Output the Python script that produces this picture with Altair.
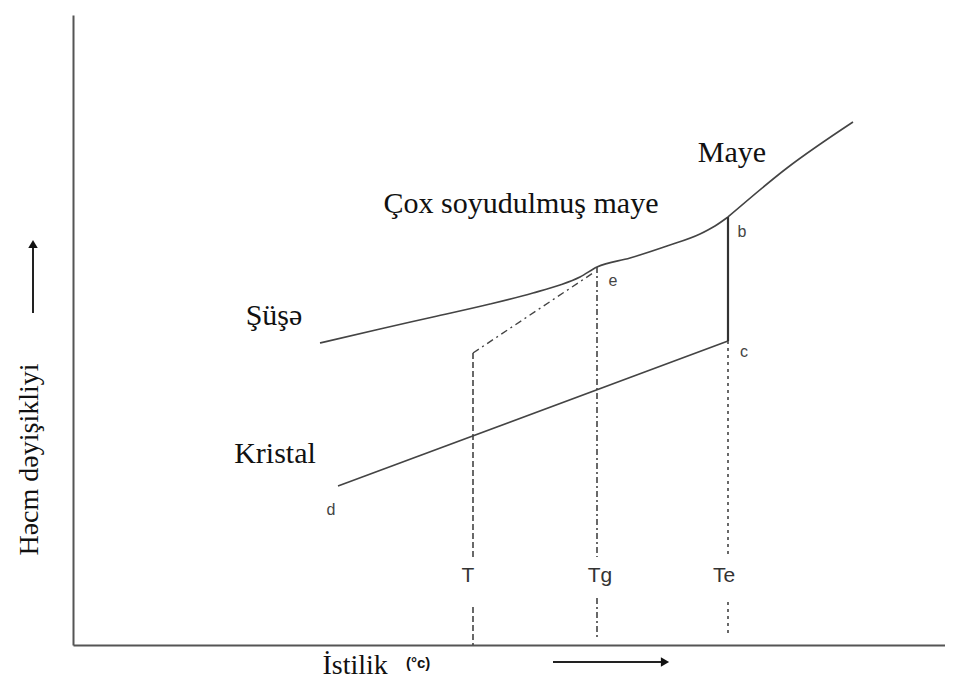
import altair as alt
import pandas as pd

# Schematic: volume change vs temperature (arbitrary units)
# Upper curve: glass -> supercooled liquid (up to b)
glass_temp = [247, 307, 360, 417, 460, 487, 507, 524, 557, 594, 627, 642, 655]
glass_vol = [302, 316, 328, 341, 352, 360, 368, 378, 387, 399, 411, 419, 428]
# Liquid branch from b
liquid_temp = [655, 714, 780]
liquid_vol = [428, 477, 523]

# Crystal line d -> c
crystal_temp = [265, 655]
crystal_vol = [159, 304]

# Vertical b -> c (crystallisation at Te)
bc_temp = [655, 655]
bc_vol = [428, 304]

# Dash-dot extrapolation from T up to the glass curve
diag_temp = [400, 520]
diag_vol = [292, 372]

# Vertical guide lines (two segments each, gap around the label)
t_seg_temp = [400, 400, 400, 400]
t_seg_vol = [292, 85, 38, 0]
tg_seg_temp = [524, 524, 524, 524]
tg_seg_vol = [378, 88, 47, 5]
te_seg_temp = [655, 655, 655, 655]
te_seg_vol = [304, 88, 43, 8]
seg_ids = ["a", "a", "b", "b"]

# Guide labels
guide_labels = ["T", "Tg", "Te"]
guide_temp = [395, 527, 651]
guide_vol = [63, 63, 63]

# Point letters
pt_labels = ["e", "b", "c", "d"]
pt_temp = [540, 669, 671, 258]
pt_vol = [359, 408, 288, 130]

# Region labels
region_labels = ["Maye", "Çox soyudulmuş maye", "Şüşə", "Kristal"]
region_temp = [659, 448, 201, 202]
region_vol = [483, 432, 320, 182]

X_DOMAIN = [0, 872]
Y_DOMAIN = [0, 630]

xs = alt.Scale(domain=X_DOMAIN, nice=False, zero=False)
ys = alt.Scale(domain=Y_DOMAIN, nice=False, zero=False)

LINE_COLOR = "#444444"
SERIF = "Liberation Serif"
SANS = "Liberation Sans"


def line_layer(temps, vols, dash=None, width=1.6, color=LINE_COLOR, segs=None, interp="linear"):
    df = pd.DataFrame({"temp": temps, "vol": vols, "order": list(range(len(temps)))})
    df["seg"] = segs if segs is not None else ["a"] * len(temps)
    kw = dict(color=color, strokeWidth=width, interpolate=interp)
    if dash is not None:
        kw["strokeDash"] = dash
    return alt.Chart(df).mark_line(**kw).encode(
        x=alt.X("temp:Q", scale=xs,
                axis=alt.Axis(title="İstilik", ticks=False, labels=False, grid=False,
                              domainColor="#555555", domainWidth=2,
                              titleFont=SERIF, titleFontSize=28, titleFontWeight="normal",
                              titleColor="#111111", titleX=249, titleY=28,
                              titleAlign="left", titleBaseline="alphabetic")),
        y=alt.Y("vol:Q", scale=ys,
                axis=alt.Axis(title="Həcm dəyişikliyi", ticks=False, labels=False, grid=False,
                              domainColor="#555555", domainWidth=2,
                              titleFont=SERIF, titleFontSize=28, titleFontWeight="normal",
                              titleColor="#111111", titleAngle=270, titleX=-36, titleY=444,
                              titleAlign="center", titleBaseline="alphabetic")),
        detail="seg:N",
        order="order:Q",
    )


glass = line_layer(glass_temp, glass_vol, width=1.6, interp="monotone")
liquid = line_layer(liquid_temp, liquid_vol, width=1.6, interp="monotone")
crystal = line_layer(crystal_temp, crystal_vol, width=1.6)
bc = line_layer(bc_temp, bc_vol, width=2.2, color="#333333")
diag = line_layer(diag_temp, diag_vol, dash=[7, 4, 2, 4], width=1.4)
t_line = line_layer(t_seg_temp, t_seg_vol, dash=[6, 3], width=1.6, segs=seg_ids)
tg_line = line_layer(tg_seg_temp, tg_seg_vol, dash=[6, 3, 2, 3], width=1.6, segs=seg_ids)
te_line = line_layer(te_seg_temp, te_seg_vol, dash=[3, 4], width=1.6, segs=seg_ids)

guide_df = pd.DataFrame({"label": guide_labels, "temp": guide_temp, "vol": guide_vol})
guide_text = alt.Chart(guide_df).mark_text(
    font=SANS, fontSize=21, color="#333333", align="center", baseline="alphabetic"
).encode(x=alt.X("temp:Q", scale=xs), y=alt.Y("vol:Q", scale=ys), text="label:N")

pt_df = pd.DataFrame({"label": pt_labels, "temp": pt_temp, "vol": pt_vol})
pt_text = alt.Chart(pt_df).mark_text(
    font=SANS, fontSize=16, color="#444444", align="center", baseline="alphabetic"
).encode(x=alt.X("temp:Q", scale=xs), y=alt.Y("vol:Q", scale=ys), text="label:N")

region_df = pd.DataFrame({"label": region_labels, "temp": region_temp, "vol": region_vol})
region_text = alt.Chart(region_df).mark_text(
    font=SERIF, fontSize=30, color="#111111", align="center", baseline="alphabetic"
).encode(x=alt.X("temp:Q", scale=xs), y=alt.Y("vol:Q", scale=ys), text="label:N")

one = pd.DataFrame({"k": [0]})
# arrows beside the axis titles
y_arrow = alt.Chart(one).mark_rule(color="#222222", strokeWidth=2).encode(
    x=alt.value(-40), y=alt.value(298), y2=alt.value(232))
y_head = alt.Chart(one).mark_point(shape="triangle-up", filled=True, color="#111111",
                                   size=90, opacity=1).encode(
    x=alt.value(-40), y=alt.value(229))
x_arrow = alt.Chart(one).mark_rule(color="#222222", strokeWidth=2).encode(
    x=alt.value(480), x2=alt.value(590), y=alt.value(647))
x_head = alt.Chart(one).mark_point(shape="triangle-right", filled=True, color="#111111",
                                   size=90, opacity=1).encode(
    x=alt.value(592), y=alt.value(647))
unit_text = alt.Chart(one).mark_text(
    text="(°c)", font=SANS, fontSize=15, fontWeight="bold", color="#111111",
    align="left", baseline="middle").encode(x=alt.value(333), y=alt.value(648))

chart = alt.layer(
    glass, liquid, crystal, bc, diag, t_line, tg_line, te_line,
    guide_text, pt_text, region_text,
    y_arrow, y_head, x_arrow, x_head, unit_text,
).properties(
    width=872, height=630,
    autosize=alt.AutoSizeParams(type="none"),
    padding={"left": 65, "top": 7, "right": 0, "bottom": 34},
    background="white",
).configure_view(strokeWidth=0)

chart.save("out.html", embed_options={"renderer": "svg", "actions": False})
